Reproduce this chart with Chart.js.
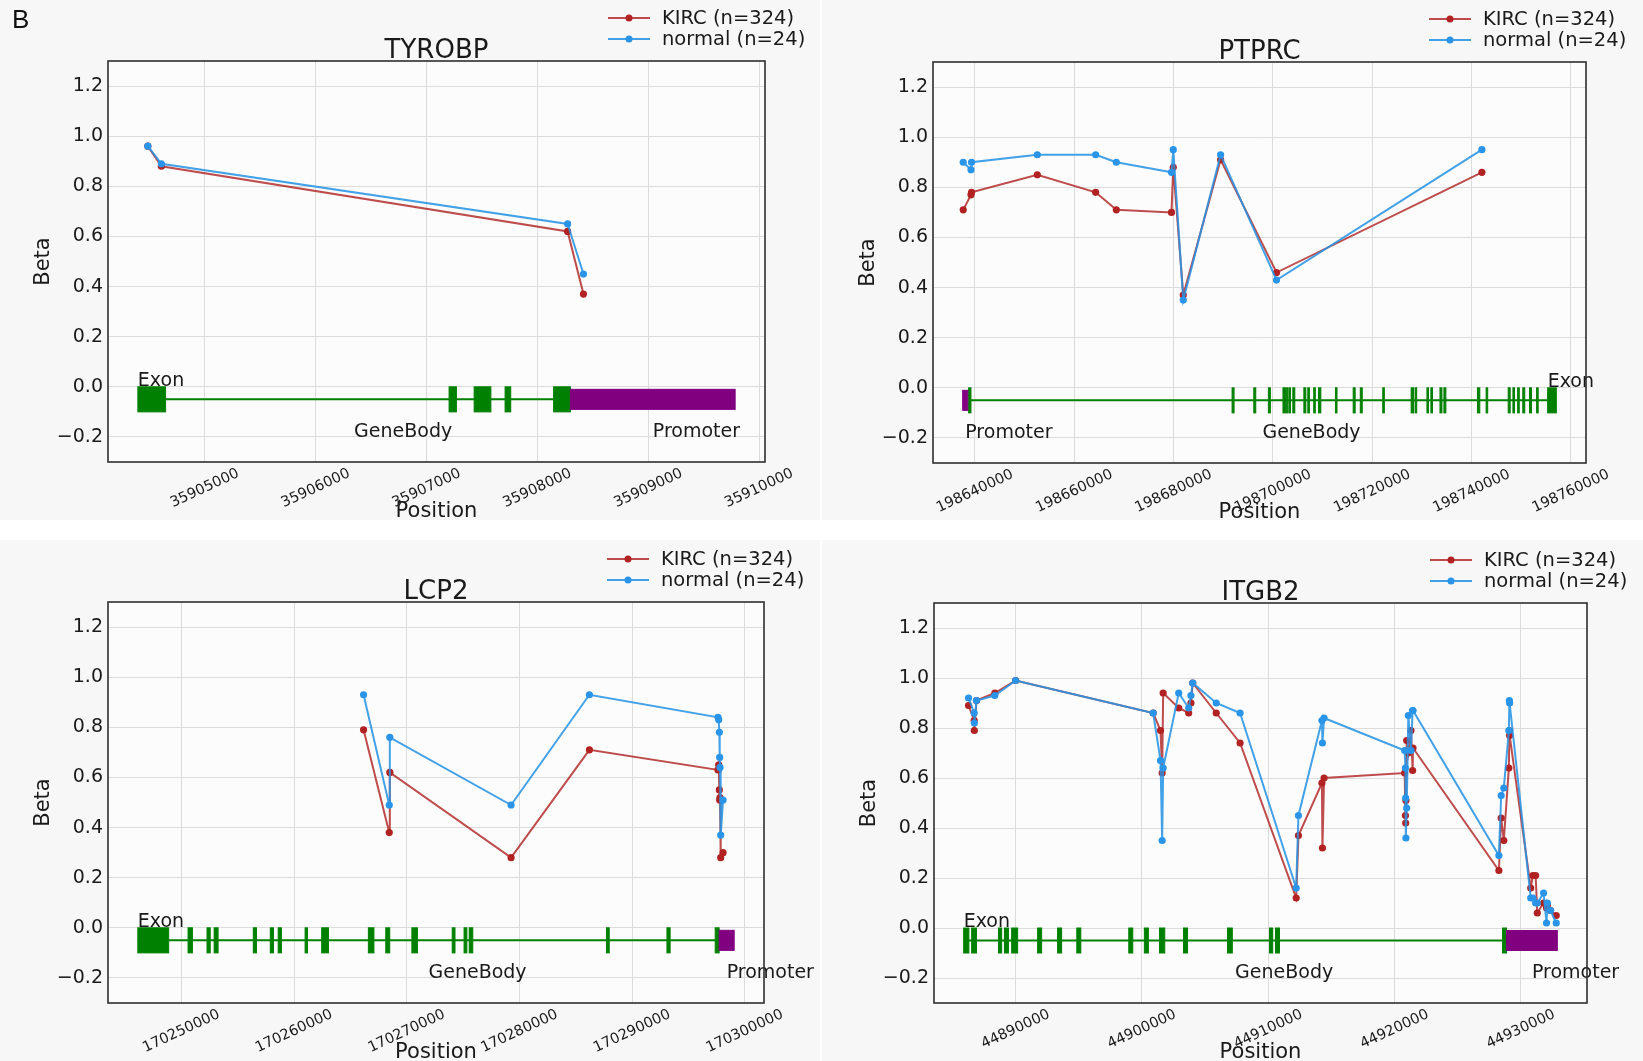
<!DOCTYPE html>
<html>
<head>
<meta charset="utf-8">
<script src="https://cdn.jsdelivr.net/npm/chart.js@4.4.1/dist/chart.umd.min.js"></script>
<style>
  html, body { margin: 0; padding: 0; background: #fff; }
  body { width: 1643px; height: 1061px; position: relative; overflow: hidden; }
  canvas { position: absolute; display: block; }
  #letter { position: absolute; left: 12px; top: 4px; font: 26px "Liberation Sans", Arial, sans-serif; color: #111; z-index: 2; }
</style>
</head>
<body>
<div id="letter">B</div>
<canvas id="c1" width="820" height="520" style="left:0;top:0"></canvas>
<canvas id="c2" width="821" height="520" style="left:822px;top:0"></canvas>
<canvas id="c3" width="820" height="521" style="left:0;top:540px"></canvas>
<canvas id="c4" width="821" height="521" style="left:822px;top:540px"></canvas>
<script>
// ---- shared ----
const seriesNames = ['KIRC (n=324)', 'normal (n=24)'];
const yTicks = [-0.2, 0.0, 0.2, 0.4, 0.6, 0.8, 1.0, 1.2];

// ---- TYROBP ----
const tyrobpPos = [35904486, 35904608, 35908272, 35908415];
const tyrobpKirc = [0.96, 0.88, 0.62, 0.37];
const tyrobpNormal = [0.96, 0.89, 0.65, 0.45];
const tyrobpExons = [[35904396, 35904646], [35907203, 35907269], [35907429, 35907580], [35907708, 35907759], [35908146, 35908297]];
const tyrobpPromoter = [35908297, 35909783];
const tyrobpExonLabel = 35904396;
const tyrobpTicks = [35905000, 35906000, 35907000, 35908000, 35909000, 35910000];

// ---- PTPRC ----
const ptprcPos = [198637630, 198639200, 198639300, 198652550, 198664300, 198668460, 198679570, 198679930, 198681940, 198689460, 198700720, 198742080];
const ptprcKirc = [0.71, 0.77, 0.78, 0.85, 0.78, 0.71, 0.70, 0.88, 0.37, 0.91, 0.46, 0.86];
const ptprcNormal = [0.90, 0.87, 0.90, 0.93, 0.93, 0.90, 0.86, 0.95, 0.35, 0.93, 0.43, 0.95];
const ptprcExons = [
  [198638713, 198639189], [198691772, 198692169], [198696141, 198696538], [198699080, 198699477],
  [198702018, 198702495], [198702654, 198702972], [198703210, 198703528], [198704004, 198704401],
  [198706228, 198706625], [198707022, 198707340], [198708214, 198708531], [198709167, 198709644],
  [198712583, 198712901], [198716157, 198716554], [198717587, 198717984], [198722114, 198722432],
  [198727833, 198728310], [198728628, 198728945], [198731011, 198731329], [198731805, 198732122],
  [198733632, 198734029], [198734427, 198734824], [198741177, 198741654], [198742925, 198743243],
  [198747373, 198747770], [198748326, 198748644], [198749279, 198749597], [198750311, 198750708],
  [198751662, 198752059], [198753092, 198753410], [198755316, 198757063]
];
const ptprcPromoter = [198637521, 198638554];
const ptprcExonLabel = 198755316;
const ptprcTicks = [198640000, 198660000, 198680000, 198700000, 198720000, 198740000, 198760000];

// ---- LCP2 ----
const lcp2Pos = [170266170, 170268450, 170268500, 170279260, 170286210, 170297620, 170297680, 170297740, 170297770, 170297800, 170297860, 170298070];
const lcp2Kirc = [0.79, 0.38, 0.62, 0.28, 0.71, 0.63, 0.65, 0.55, 0.51, 0.52, 0.28, 0.30];
const lcp2Normal = [0.93, 0.49, 0.76, 0.49, 0.93, 0.84, 0.83, 0.78, 0.68, 0.64, 0.37, 0.51];
const lcp2Exons = [
  [170246140, 170248877], [170250597, 170250983], [170252281, 170252562], [170252912, 170253263],
  [170256386, 170256667], [170257895, 170258176], [170258597, 170258878], [170260983, 170261194],
  [170262457, 170263053], [170266598, 170267089], [170268142, 170268493], [170270458, 170270949],
  [170274037, 170274283], [170275089, 170275335], [170275545, 170275861], [170287722, 170287968],
  [170293091, 170293372], [170297372, 170297722]
];
const lcp2Promoter = [170297722, 170299056];
const lcp2ExonLabel = 170246140;
const lcp2Ticks = [170250000, 170260000, 170270000, 170280000, 170290000, 170300000];

// ---- ITGB2 ----
const itgb2Pos = [
  44886270, 44886720, 44886730, 44886900, 44888350, 44890000, 44900890, 44901470, 44901600, 44901680,
  44902910, 44903700, 44903880, 44904020, 44905880, 44907770, 44912210, 44912390, 44914250, 44914290,
  44914420, 44920800, 44920860, 44920880, 44920900, 44920960, 44921090, 44921300, 44921430, 44921460,
  44928260, 44928440, 44928650, 44929050, 44929090, 44929110, 44930780, 44930950, 44931170, 44931300,
  44931800, 44932030, 44932100, 44932350, 44932800
];
const itgb2Kirc = [
  0.89, 0.83, 0.79, 0.91, 0.94, 0.99, 0.86, 0.79, 0.62, 0.94,
  0.88, 0.86, 0.90, 0.98, 0.86, 0.74, 0.12, 0.37, 0.58, 0.32,
  0.60, 0.62, 0.45, 0.42, 0.51, 0.75, 0.70, 0.79, 0.63, 0.72,
  0.23, 0.44, 0.35, 0.64, 0.79, 0.77, 0.16, 0.21, 0.21, 0.06,
  0.10, 0.08, 0.09, 0.07, 0.05
];
const itgb2Normal = [
  0.92, 0.86, 0.82, 0.91, 0.93, 0.99, 0.86, 0.67, 0.35, 0.64,
  0.94, 0.88, 0.93, 0.98, 0.90, 0.86, 0.16, 0.45, 0.83, 0.74,
  0.84, 0.71, 0.64, 0.52, 0.36, 0.48, 0.85, 0.71, 0.87, 0.87,
  0.29, 0.53, 0.56, 0.79, 0.91, 0.90, 0.12, 0.12, 0.10, 0.10,
  0.14, 0.02, 0.10, 0.07, 0.02
];
const itgb2Exons = [
  [44885886, 44886297], [44886519, 44886898], [44888639, 44888892], [44889114, 44889430],
  [44889684, 44890158], [44891741, 44892057], [44893323, 44893640], [44894842, 44895159],
  [44898957, 44899273], [44900191, 44900508], [44901394, 44901805], [44903293, 44903610],
  [44906775, 44907154], [44910098, 44910351], [44910573, 44910889], [44928550, 44928866]
];
const itgb2Promoter = [44928866, 44932886];
const itgb2ExonLabel = 44885886;
const itgb2Ticks = [44890000, 44900000, 44910000, 44920000, 44930000];

// ---- styles ----
const FONT = '"DejaVu Sans", "Liberation Sans", sans-serif';
const RED_LINE = 'rgba(176,36,36,0.82)';
const RED_PT = '#b22222';
const BLUE_LINE = 'rgba(40,148,228,0.88)';
const BLUE_PT = '#2a95e8';
const GREEN = '#008000';
const PURPLE = '#800080';

const panels = [
  { id: 'c1', area: { left: 108, top: 61, right: 765, bottom: 462 }, title: 'TYROBP',
    pos: tyrobpPos, kirc: tyrobpKirc, normal: tyrobpNormal, exons: tyrobpExons,
    promoter: tyrobpPromoter, exonLabel: tyrobpExonLabel, ticks: tyrobpTicks },
  { id: 'c2', area: { left: 111, top: 62, right: 764, bottom: 463 }, title: 'PTPRC',
    pos: ptprcPos, kirc: ptprcKirc, normal: ptprcNormal, exons: ptprcExons,
    promoter: ptprcPromoter, exonLabel: ptprcExonLabel, ticks: ptprcTicks },
  { id: 'c3', area: { left: 108, top: 62, right: 764, bottom: 463 }, title: 'LCP2',
    pos: lcp2Pos, kirc: lcp2Kirc, normal: lcp2Normal, exons: lcp2Exons,
    promoter: lcp2Promoter, exonLabel: lcp2ExonLabel, ticks: lcp2Ticks },
  { id: 'c4', area: { left: 112, top: 63, right: 765, bottom: 463 }, title: 'ITGB2',
    pos: itgb2Pos, kirc: itgb2Kirc, normal: itgb2Normal, exons: itgb2Exons,
    promoter: itgb2Promoter, exonLabel: itgb2ExonLabel, ticks: itgb2Ticks }
];

function fmtY(v) {
  const s = Math.abs(v).toFixed(1);
  return v < -1e-9 ? '\u2212' + s : s;
}

function geneSpan(p) {
  const all = p.exons.flat().concat(p.promoter);
  return [Math.min(...all), Math.max(...all)];
}

function trackPlugin(p) {
  return {
    id: 'geneTrack',
    beforeDraw(chart) {
      const { ctx, chartArea: a } = chart;
      ctx.save();
      ctx.fillStyle = '#f7f7f7';
      ctx.fillRect(0, 0, chart.width, chart.height);
      ctx.fillStyle = '#fcfcfc';
      ctx.fillRect(a.left, a.top, a.right - a.left, a.bottom - a.top);
      ctx.restore();
    },
    beforeDatasetsDraw(chart) {
      const { ctx } = chart;
      const xs = chart.scales.x, ys = chart.scales.y;
      const px = v => xs.getPixelForValue(v);
      const py = v => ys.getPixelForValue(v);
      const bodyStart = Math.min(...p.exons.map(e => e[0]));
      const bodyEnd = Math.max(...p.exons.map(e => e[1]));
      ctx.save();
      // intron line
      ctx.strokeStyle = GREEN;
      ctx.lineWidth = 2;
      ctx.beginPath();
      ctx.moveTo(px(bodyStart), py(-0.05));
      ctx.lineTo(px(bodyEnd), py(-0.05));
      ctx.stroke();
      // exons
      ctx.fillStyle = GREEN;
      ctx.lineWidth = 1;
      p.exons.forEach(e => {
        const x0 = px(e[0]), x1 = px(e[1]);
        const w = Math.max(x1 - x0, 1);
        ctx.fillRect(x0, py(0), w, py(-0.1) - py(0));
        ctx.strokeRect(x0, py(0), w, py(-0.1) - py(0));
      });
      // promoter
      ctx.fillStyle = PURPLE;
      ctx.strokeStyle = PURPLE;
      const q0 = px(p.promoter[0]), q1 = px(p.promoter[1]);
      ctx.fillRect(q0, py(-0.01), q1 - q0, py(-0.09) - py(-0.01));
      ctx.strokeRect(q0, py(-0.01), q1 - q0, py(-0.09) - py(-0.01));
      // labels
      ctx.fillStyle = '#1a1a1a';
      ctx.font = '19px ' + FONT;
      ctx.textAlign = 'left';
      ctx.textBaseline = 'alphabetic';
      ctx.fillText('Exon', px(p.exonLabel), py(0.005));
      ctx.fillText('GeneBody', px((bodyStart + bodyEnd) / 2), py(-0.2));
      ctx.fillText('Promoter', px((p.promoter[0] + p.promoter[1]) / 2), py(-0.2));
      ctx.restore();
    },
    afterDraw(chart) {
      const { ctx, chartArea: a } = chart;
      const xs = chart.scales.x;
      ctx.save();
      // frame
      ctx.strokeStyle = '#2e2e2e';
      ctx.lineWidth = 1.6;
      ctx.strokeRect(a.left, a.top, a.right - a.left, a.bottom - a.top);
      // rotated x tick labels, centred under each tick
      const ang = 25 * Math.PI / 180;
      ctx.fillStyle = '#1a1a1a';
      ctx.font = '14.5px ' + FONT;
      ctx.textAlign = 'center';
      ctx.textBaseline = 'middle';
      p.ticks.forEach(t => {
        const label = String(t);
        const w = ctx.measureText(label).width;
        const h = 10.5;
        const half = (w * Math.sin(ang) + h * Math.cos(ang)) / 2;
        ctx.save();
        ctx.translate(xs.getPixelForValue(t), a.bottom + 6 + half);
        ctx.rotate(-ang);
        ctx.fillText(label, 0, 0);
        ctx.restore();
      });
      // axis titles
      const cx = (a.left + a.right) / 2;
      ctx.font = '21px ' + FONT;
      ctx.textBaseline = 'alphabetic';
      ctx.fillText('Position', cx, a.bottom + 55);
      ctx.save();
      ctx.translate(a.left - 64, (a.top + a.bottom) / 2);
      ctx.rotate(-Math.PI / 2);
      ctx.textBaseline = 'middle';
      ctx.fillText('Beta', 0, 0);
      ctx.restore();
      // title
      ctx.font = '26px ' + FONT;
      ctx.fillText(p.title, cx, a.top - 3);
      // legend
      const rows = [[a.top - 43, RED_LINE, RED_PT], [a.top - 22, BLUE_LINE, BLUE_PT]];
      ctx.font = '19.5px ' + FONT;
      ctx.textAlign = 'left';
      ctx.textBaseline = 'middle';
      rows.forEach((r, i) => {
        ctx.strokeStyle = r[1];
        ctx.lineWidth = 2;
        ctx.beginPath();
        ctx.moveTo(a.right - 157, r[0]);
        ctx.lineTo(a.right - 115, r[0]);
        ctx.stroke();
        ctx.fillStyle = r[2];
        ctx.beginPath();
        ctx.arc(a.right - 136, r[0], 3.5, 0, Math.PI * 2);
        ctx.fill();
        ctx.fillStyle = '#1a1a1a';
        ctx.fillText(seriesNames[i], a.right - 103, r[0] + 1);
      });
      ctx.restore();
    }
  };
}

panels.forEach(p => {
  const canvas = document.getElementById(p.id);
  const W = canvas.width, H = canvas.height;
  const span = geneSpan(p);
  const margin = (span[1] - span[0]) * 0.05;
  const toPoints = vals => p.pos.map((x, i) => ({ x: x, y: vals[i] }));

  new Chart(canvas.getContext('2d'), {
    type: 'line',
    data: {
      datasets: [
        { label: seriesNames[0], data: toPoints(p.kirc), borderColor: RED_LINE, backgroundColor: RED_PT,
          pointBackgroundColor: RED_PT, pointBorderWidth: 0, pointRadius: 3.6, borderWidth: 2, tension: 0, order: 2 },
        { label: seriesNames[1], data: toPoints(p.normal), borderColor: BLUE_LINE, backgroundColor: BLUE_PT,
          pointBackgroundColor: BLUE_PT, pointBorderWidth: 0, pointRadius: 3.6, borderWidth: 2, tension: 0, order: 1 }
      ]
    },
    options: {
      responsive: false,
      animation: false,
      layout: { padding: { top: p.area.top, right: W - p.area.right, bottom: 0, left: 0 } },
      plugins: { legend: { display: false }, tooltip: { enabled: false }, title: { display: false } },
      scales: {
        x: {
          type: 'linear',
          min: span[0] - margin,
          max: span[1] + margin,
          afterBuildTicks: s => { s.ticks = p.ticks.map(v => ({ value: v })); },
          afterFit: s => { s.height = H - p.area.bottom; },
          ticks: { display: false },
          grid: { color: '#dcdcdc', lineWidth: 1, drawTicks: false },
          border: { display: false }
        },
        y: {
          min: -0.3,
          max: 1.3,
          afterBuildTicks: s => { s.ticks = yTicks.map(v => ({ value: v })); },
          afterFit: s => { s.width = p.area.left; },
          ticks: { callback: v => fmtY(v), color: '#1a1a1a', padding: 5, font: { family: FONT, size: 19 } },
          grid: { color: '#dcdcdc', lineWidth: 1, drawTicks: false },
          border: { display: false }
        }
      }
    },
    plugins: [trackPlugin(p)]
  });
});
</script>
</body>
</html>
